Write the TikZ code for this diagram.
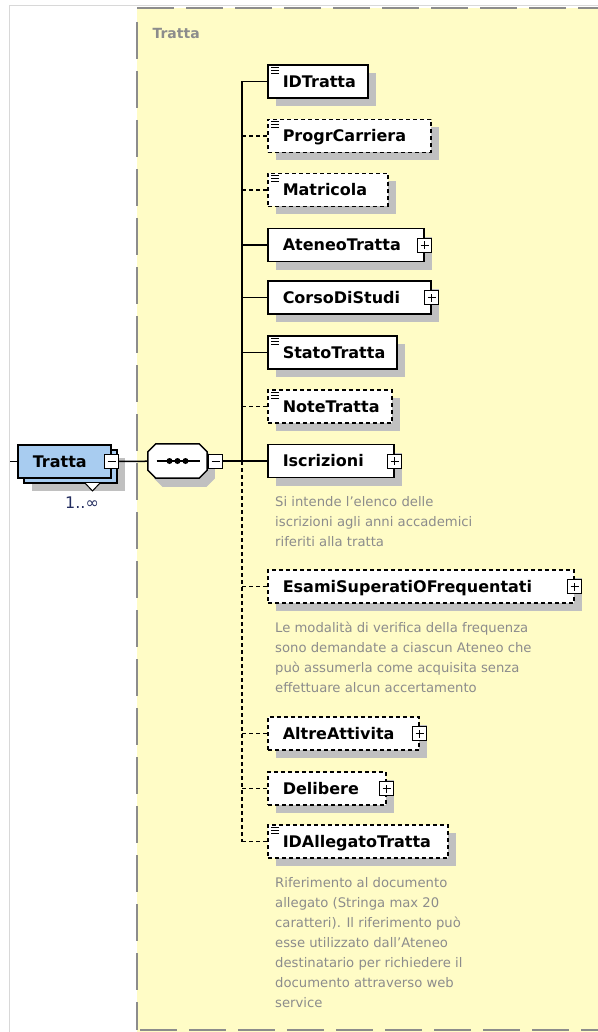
\documentclass[tikz,border=0pt]{standalone}
\usepackage{fontspec}
\setmainfont{DejaVu Sans}
\usetikzlibrary{positioning,shadows}

\definecolor{yellowbg}{RGB}{255,252,198}
\definecolor{rootblue}{RGB}{168,204,240}
\definecolor{shadowgray}{RGB}{192,192,192}
\definecolor{bordergray}{RGB}{140,140,140}
\definecolor{framegray}{RGB}{216,216,216}
\definecolor{annotgray}{RGB}{140,140,140}
\definecolor{multblue}{RGB}{35,45,95}

\newcommand{\elemfont}{\fontsize{16}{19}\selectfont\bfseries}
\newcommand{\annotfont}{\fontsize{13.2}{20}\selectfont}

\begin{document}
\begin{tikzpicture}
        [x=1pt, y=1pt,
        elem/.style={draw, line width=1.5pt, fill=white, minimum height=33pt,
          inner xsep=15pt, inner ysep=0pt, text height=11.6pt, text depth=0pt,
          anchor=west, align=left, font=\elemfont,
          drop shadow={shadow xshift=8pt, shadow yshift=-8pt, fill=shadowgray, opacity=1}},
        optelem/.style={elem, dash pattern=on 4pt off 3pt},
        root/.style={draw, line width=1.5pt, fill=rootblue, minimum height=33pt,
          inner xsep=15pt, inner ysep=0pt, text height=11.6pt, text depth=0pt,
          anchor=west, align=left, font=\elemfont,
          drop shadow={shadow xshift=14pt, shadow yshift=-13pt, fill=shadowgray, opacity=1},
          copy shadow={shadow xshift=6pt, shadow yshift=-5pt, draw=black, fill=rootblue, line width=1.5pt}},
        seqbox/.style={minimum width=59pt, minimum height=34pt, inner sep=0pt},
        btn/.style={draw, line width=1pt, fill=white, minimum size=14pt, inner sep=0pt},
        plusbtn/.style={btn, path picture={
          \draw[line width=1pt] ([xshift=-4pt]path picture bounding box.center) -- ([xshift=4pt]path picture bounding box.center)
                                ([yshift=-4pt]path picture bounding box.center) -- ([yshift=4pt]path picture bounding box.center);}},
        minusbtn/.style={btn, path picture={
          \draw[line width=1pt] ([xshift=-4pt]path picture bounding box.center) -- ([xshift=4pt]path picture bounding box.center);}},
        conn/.style={black, line width=1.5pt},
        optconn/.style={conn, dash pattern=on 4pt off 3pt},
        icon/.style={black, line width=1pt},
        annot/.style={annotgray, anchor=north west, align=left, inner sep=0pt, font=\annotfont},
        groupborder/.style={bordergray, line width=2pt, dash pattern=on 37pt off 12pt}]

        \useasboundingbox (0,0) rectangle (597,-1032);

        % frame and the yellow group of the type
        \draw[framegray, line width=1pt] (9,-1040) -- (9,-6) -- (605,-6);
        \fill[yellowbg] (137,-8) rectangle (605,-1040);
        \draw[groupborder] (137,-8) -- (605,-8);
        \draw[groupborder] (137,-22) -- (137,-1030);
        \draw[groupborder] (140,-1030) -- (605,-1030);
        \node[anchor=west, text=bordergray, font=\fontsize{14}{16}\selectfont\bfseries] (grouplabel) at (149,-33) {Tratta};

        % root element with its multiplicity
        \coordinate (in) at (10,-461.5);
        \node[root, text width=63pt] (tratta) at (17,-461.5) {Tratta};
        \draw[fill=white, line width=1pt] (85,-483) -- (92.5,-491) -- (100,-483);
        \node[minusbtn] (trattaminus) at (tratta.east) {};
        \node[text=multblue, font=\fontsize{16}{18}\selectfont] (multi) at (82,-503) {1..∞};

        % sequence compositor (octagon)
        \node[seqbox] (seq) at (177.5,-461) {};
        \foreach \sx/\sy/\col/\edge in {7/-8/shadowgray/shadowgray, 0/0/white/black}
          \filldraw[fill=\col, draw=\edge, line width=1.5pt, transform canvas={shift={(\sx,\sy)}}]
            ([xshift=8pt]seq.north west) -- ([xshift=-8pt]seq.north east) -- ([yshift=-8pt]seq.north east)
            -- ([yshift=8pt]seq.south east) -- ([xshift=-8pt]seq.south east) -- ([xshift=8pt]seq.south west)
            -- ([yshift=8pt]seq.south west) -- ([yshift=-8pt]seq.north west) -- cycle;
        \draw[conn] ([xshift=-21pt]seq.center) -- ([xshift=22pt]seq.center);
        \foreach \dx in {-8,0,8}
          \fill ([xshift=\dx pt]seq.center) circle (3pt);
        \node[minusbtn, right=1pt of seq] (seqminus) {};
        \coordinate (jn) at (242,-461);

        % children of the sequence
        \node[elem, text width=70pt] (idtratta) at (267,-81.5) {IDTratta};
        \node[optelem, text width=133pt] (progr) at (267,-136) {ProgrCarriera};
        \node[optelem, text width=90pt] (matricola) at (267,-190) {Matricola};
        \node[elem, text width=126pt] (ateneo) at (267,-245) {AteneoTratta};
        \node[elem, text width=133pt] (corso) at (267,-297.5) {CorsoDiStudi};
        \node[elem, text width=99pt] (stato) at (267,-352.5) {StatoTratta};
        \node[optelem, text width=94pt] (note) at (267,-406.5) {NoteTratta};
        \node[elem, text width=96pt] (iscrizioni) at (267,-461) {Iscrizioni};
        \node[optelem, text width=276pt] (esami) at (267,-586.5) {EsamiSuperatiOFrequentati};
        \node[optelem, text width=121pt] (altre) at (267,-733.5) {AltreAttivita};
        \node[optelem, text width=88pt] (delibere) at (267,-788.5) {Delibere};
        \node[optelem, text width=150pt] (idallegato) at (267,-841.5) {IDAllegatoTratta};

        % expand buttons and simple type marks
        \foreach \n in {ateneo,corso,iscrizioni,esami,altre,delibere}
          \node[plusbtn] (plus\n) at (\n.east) {};
        \foreach \n in {idtratta,progr,matricola,stato,note,idallegato}
          \foreach \dy in {3,6,9}
            \draw[icon] ([shift={(4,-\dy)}]\n.north west) -- ++(8,0);

        % annotations
        \node[annot] (noteiscr) at (275,-496) {Si intende l'elenco delle\\iscrizioni agli anni accademici\\riferiti alla tratta};
        \node[annot] (noteesami) at (275,-622) {Le modalità di verifica della frequenza\\sono demandate a ciascun Ateneo che\\può assumerla come acquisita senza\\effettuare alcun accertamento};
        \node[annot] (noteallegato) at (275,-877) {Riferimento al documento\\allegato (Stringa max 20\\caratteri). Il riferimento può\\esse utilizzato dall'Ateneo\\destinatario per richiedere il\\documento attraverso web\\service};

        % connectors
        \draw[conn] (in) -- (tratta);
        \draw[conn] (trattaminus) -- (seq);
        \draw[conn] (seqminus) -- (jn);
        \draw[conn] (jn |- idtratta.west) -- (jn);
        \draw[optconn] (jn) -- (jn |- idallegato.west);
        \foreach \n in {idtratta,ateneo,corso,stato,iscrizioni}
          \draw[conn] (jn |- \n.west) -- (\n.west);
        \foreach \n in {progr,matricola,note,esami,altre,delibere,idallegato}
          \draw[optconn] (jn |- \n.west) -- (\n.west);

    \end{tikzpicture}
\end{document}
